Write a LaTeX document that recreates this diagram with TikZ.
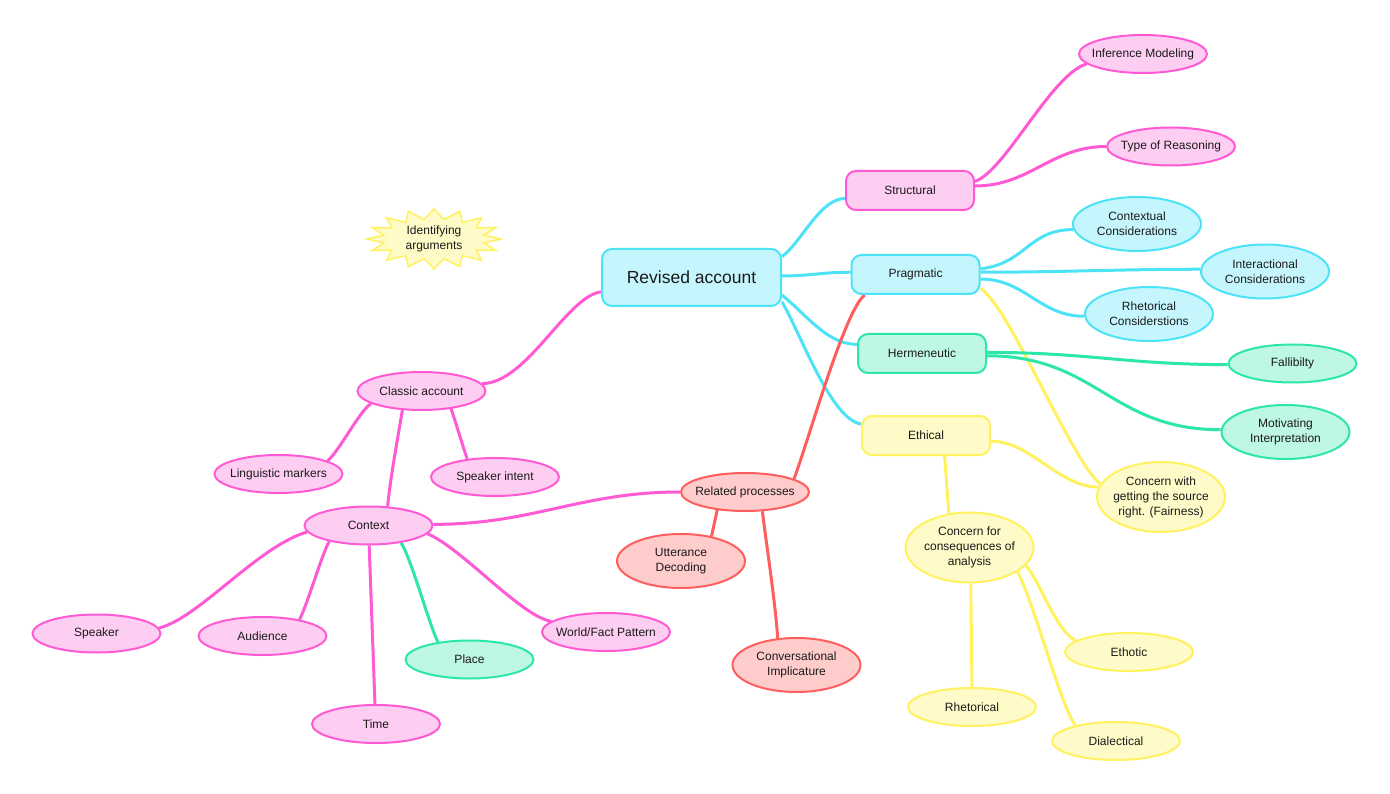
\documentclass[tikz,border=0pt]{standalone}
\usepackage{fontspec}
\setmainfont{Liberation Sans}
\usetikzlibrary{shapes.geometric,backgrounds,calc}
\definecolor{txt}{HTML}{1A1A1A}
\definecolor{cyB}{HTML}{4DE3F7}
\definecolor{cyF}{HTML}{C6F6FD}
\definecolor{pkB}{HTML}{FF5AD4}
\definecolor{pkF}{HTML}{FDCEF1}
\definecolor{grB}{HTML}{2DE6AA}
\definecolor{grF}{HTML}{BEF7E3}
\definecolor{ylB}{HTML}{FFF25E}
\definecolor{ylF}{HTML}{FEFBC8}
\definecolor{rdB}{HTML}{FF5E5E}
\definecolor{rdF}{HTML}{FFCCCC}
\tikzset{
  base/.style={line width=2pt, text=txt, align=center, font=\fontsize{12}{15}\selectfont},
  box/.style={base, rectangle, rounded corners=10pt, inner sep=0pt, minimum width=128pt, minimum height=39pt},
  oval/.style={base, ellipse, inner xsep=-20pt, inner ysep=-12pt, minimum width=128pt, minimum height=38pt},
  twol/.style={minimum height=54pt},
  threel/.style={minimum height=70pt},
  cy/.style={draw=cyB, fill=cyF},
  pk/.style={draw=pkB, fill=pkF},
  gr/.style={draw=grB, fill=grF},
  yl/.style={draw=ylB, fill=ylF},
  rd/.style={draw=rdB, fill=rdF},
  conn/.style={line width=3pt},
}
\begin{document}
\begin{tikzpicture}[x=1pt,y=-1pt]
\useasboundingbox (0,0) rectangle (1390,794);
% central
\node[box,cy,minimum width=179pt,minimum height=57pt,font=\fontsize{17.5}{20}\selectfont] (rev) at (691.5,277.5) {Revised account};
% main branches
\node[box,pk] (str) at (910,190.5) {Structural};
\node[box,cy] (prag) at (915.5,274.5) {Pragmatic};
\node[box,gr] (herm) at (922,353.5) {Hermeneutic};
\node[box,yl] (eth) at (926,435.5) {Ethical};
% right leaves
\node[oval,pk] (inf) at (1143,54) {Inference Modeling};
\node[oval,pk] (typ) at (1171,146.5) {Type of Reasoning};
\node[oval,cy,twol] (ctx) at (1137,224) {Contextual\\Considerations};
\node[oval,cy,twol] (int) at (1265,271.5) {Interactional\\Considerations};
\node[oval,cy,twol] (rcons) at (1149,314) {Rhetorical\\Considerstions};
\node[oval,gr] (fal) at (1292.5,363.5) {Fallibilty};
\node[oval,gr,twol] (mot) at (1285.5,432) {Motivating\\Interpretation};
\node[oval,yl,threel] (cwith) at (1161,497) {Concern with\\getting the source\\right. (Fairness)};
\node[oval,yl,threel] (cfor) at (969.5,547.5) {Concern for\\consequences of\\analysis};
\node[oval,yl] (etho) at (1129,652) {Ethotic};
\node[oval,yl] (rhet) at (972,707) {Rhetorical};
\node[oval,yl] (dial) at (1116,741) {Dialectical};
% star
\path[draw=ylB, fill=ylF, line width=1.5pt, line join=miter] (501,239)
  \foreach \k in {0,...,15}{ -- ({434+51*cos(\k*22.5+11.25)},{239+20*sin(\k*22.5+11.25)}) -- ({434+67*cos((\k+1)*22.5)},{239+30*sin((\k+1)*22.5)}) } -- cycle;
\node[base] (idarg) at (434,239) {Identifying\\arguments};
% left part
\node[oval,pk] (classic) at (421.5,391) {Classic account};
\node[oval,pk] (ling) at (278.5,474) {Linguistic markers};
\node[oval,pk] (intent) at (495,477) {Speaker intent};
\node[oval,pk] (context) at (368.5,525.5) {Context};
\node[oval,rd] (related) at (745,492) {Related processes};
\node[oval,rd,twol] (utter) at (681,561) {Utterance\\Decoding};
\node[oval,rd,twol] (conv) at (796.5,665) {Conversational\\Implicature};
\node[oval,pk] (speaker) at (96.5,633.5) {Speaker};
\node[oval,pk] (aud) at (262.5,636) {Audience};
\node[oval,gr] (place) at (469.5,659.5) {Place};
\node[oval,pk] (time) at (376,724) {Time};
\node[oval,pk] (world) at (606,632) {World/Fact Pattern};
% connectors
\begin{scope}[on background layer]
\fill[white] (0,0) rectangle (1390,794);
\draw[conn,cyB] (rev.13.5) .. controls +(20,-15) and +(-25,0) .. (str.187);
\draw[conn,cyB] (rev.1) .. controls +(30,0) and +(-30,0) .. (prag.178.6);
\draw[conn,cyB] (rev.-11.3) .. controls +(25,20) and +(-30,0) .. (herm.172.4);
\draw[conn,cyB] (rev.-15.7) .. controls +(20,35) and +(-30,-5) .. (eth.170.7);
\draw[conn,pkB] (rev.189.2) .. controls +(-35,5) and +(45,0) .. (classic.7.7);
\draw[conn,pkB] (str.8.4) .. controls +(30,-10) and +(-35,10) .. (inf.190.7);
\draw[conn,pkB] (str.4) .. controls +(55,0) and +(-55,0) .. (typ.180);
\draw[conn,cyB] (prag.5.8) .. controls +(45,-5) and +(-45,0) .. (ctx.185.4);
\draw[conn,cyB] (prag.2.3) .. controls +(80,0) and +(-80,0) .. (int.178.7);
\draw[conn,cyB] (prag.-4) .. controls +(45,0) and +(-45,0) .. (rcons.182.8);
\draw[conn,ylB] (prag.-12.2) .. controls +(30,20) and +(-30,-25) .. (cwith.168);
\draw[conn,rdB] (prag.202.3) .. controls +(-20,15) and +(15,-40) .. (related.15);
\draw[conn,grB] (herm.1.3) .. controls +(100,0) and +(-100,0) .. (fal.181);
\draw[conn,grB] (herm.-2) .. controls +(110,0) and +(-110,0) .. (mot.178);
\draw[conn,ylB] (eth.-5) .. controls +(40,0) and +(-40,0) .. (cwith.171);
\draw[conn,ylB] (eth.-48.9) .. controls +(2,20) and +(-2,-20) .. (cfor.121);
\draw[conn,ylB] (cfor.-18.7) .. controls +(12,10) and +(-20,-10) .. (etho.168.7);
\draw[conn,ylB] (cfor.-27.3) .. controls +(15,25) and +(-15,-20) .. (dial.159);
\draw[conn,ylB] (cfor.-88) -- (rhet.90);
\draw[conn,pkB] (classic.194.7) .. controls +(-12,8) and +(12,-10) .. (ling.15.2);
\draw[conn,pkB] (classic.-31.4) .. controls +(5,15) and +(-5,-15) .. (intent.147.3);
\draw[conn,pkB] (classic.225.8) .. controls +(-5,30) and +(3,-30) .. (context.45);
\draw[conn,pkB] (context.1.4) .. controls +(100,0) and +(-100,0) .. (related.180);
\draw[conn,pkB] (context.186.9) .. controls +(-50,15) and +(40,-10) .. (speaker.5.8);
\draw[conn,pkB] (context.202.5) .. controls +(-8,15) and +(8,-15) .. (aud.24.4);
\draw[conn,pkB] (context.-88) -- (time.93);
\draw[conn,grB] (context.-28.3) .. controls +(10,15) and +(-8,-15) .. (place.151);
\draw[conn,pkB] (context.-8.3) .. controls +(35,15) and +(-30,-5) .. (world.169.5);
\draw[conn,rdB] (related.213.7) -- (utter.39.6);
\draw[conn,rdB] (related.-48.2) .. controls +(5,40) and +(-3,-40) .. (conv.125.4);
\end{scope}
\end{tikzpicture}
\end{document}
